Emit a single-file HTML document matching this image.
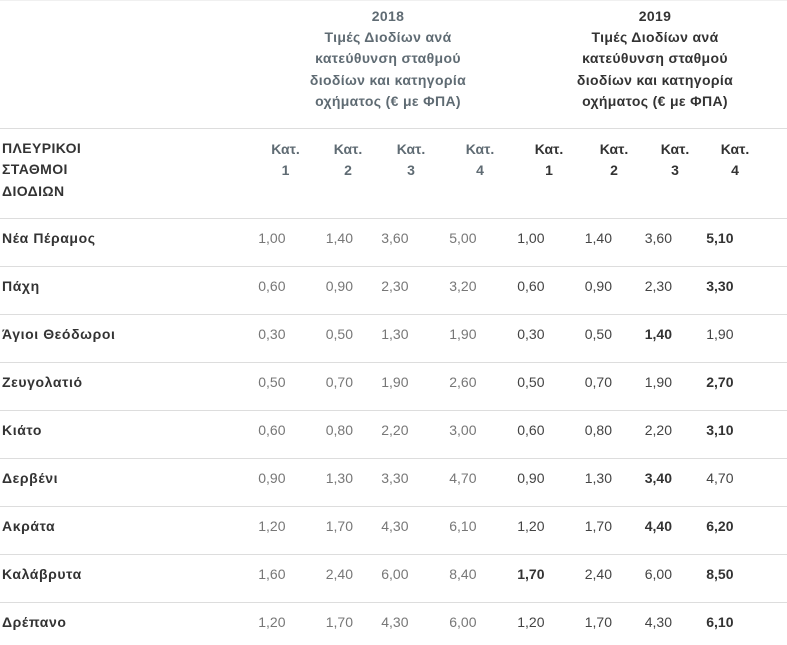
<!DOCTYPE html>
<html><head><meta charset="utf-8">
<style>
*{margin:0;padding:0;box-sizing:border-box}
html,body{width:787px;height:645px;background:#fff;overflow:hidden}
body{position:relative;font-family:"Liberation Sans","DejaVu Sans",sans-serif;font-size:14px;color:#333}
.abs{position:absolute}
.line{position:absolute;left:0;width:787px;height:1px;background:#dddddd}
.title{position:absolute;top:5.5px;width:240px;text-align:center;font-weight:bold;line-height:21.4px;font-size:14px;letter-spacing:0.35px}
.t18{color:#5f6b73}
.t19{color:#333}
.kat{position:absolute;top:139px;width:60px;text-align:center;font-weight:bold;line-height:21px}
.row{position:absolute;left:0;width:787px;height:48px;border-top:1px solid #dddddd}
.lab{position:absolute;left:2px;top:9px;line-height:20px;font-weight:bold;color:#333;white-space:nowrap;letter-spacing:0.6px}
.v{position:absolute;top:9px;width:50px;text-align:right;line-height:20px;white-space:nowrap}
.a{color:#777}
.b{color:#444}
.b b{color:#333}
.c1{left:235.5px}.c2{left:303px}.c3{left:358.5px}.c4{left:426.5px}
.c5{left:494.5px}.c6{left:562px}.c7{left:622px}.c8{left:683.5px}
</style></head><body>
<div class="line" style="top:0;background:#f0f0f0"></div>

<div class="title t18" style="left:268px">2018<br>Τιμές Διοδίων ανά<br>κατεύθυνση σταθμού<br>διοδίων και κατηγορία<br>οχήματος (€ με ΦΠΑ)</div>
<div class="title t19" style="left:535px">2019<br>Τιμές Διοδίων ανά<br>κατεύθυνση σταθμού<br>διοδίων και κατηγορία<br>οχήματος (€ με ΦΠΑ)</div>

<div class="line" style="top:128px"></div>

<div class="abs" style="left:2px;top:137.5px;line-height:21.5px;font-weight:bold;color:#333;letter-spacing:0.4px">ΠΛΕΥΡΙΚΟΙ<br>ΣΤΑΘΜΟΙ<br>ΔΙΟΔΙΩΝ</div>

<div class="kat t18" style="left:255.5px">Κατ.<br>1</div>
<div class="kat t18" style="left:318px">Κατ.<br>2</div>
<div class="kat t18" style="left:381px">Κατ.<br>3</div>
<div class="kat t18" style="left:450px">Κατ.<br>4</div>
<div class="kat t19" style="left:519px">Κατ.<br>1</div>
<div class="kat t19" style="left:584px">Κατ.<br>2</div>
<div class="kat t19" style="left:645px">Κατ.<br>3</div>
<div class="kat t19" style="left:705px">Κατ.<br>4</div>

<div class="row" style="top:218px"><div class="lab">Νέα Πέραμος</div>
<div class="v a c1">1,00</div><div class="v a c2">1,40</div><div class="v a c3">3,60</div><div class="v a c4">5,00</div>
<div class="v b c5">1,00</div><div class="v b c6">1,40</div><div class="v b c7">3,60</div><div class="v b c8"><b>5,10</b></div></div>

<div class="row" style="top:266px"><div class="lab">Πάχη</div>
<div class="v a c1">0,60</div><div class="v a c2">0,90</div><div class="v a c3">2,30</div><div class="v a c4">3,20</div>
<div class="v b c5">0,60</div><div class="v b c6">0,90</div><div class="v b c7">2,30</div><div class="v b c8"><b>3,30</b></div></div>

<div class="row" style="top:314px"><div class="lab">Άγιοι Θεόδωροι</div>
<div class="v a c1">0,30</div><div class="v a c2">0,50</div><div class="v a c3">1,30</div><div class="v a c4">1,90</div>
<div class="v b c5">0,30</div><div class="v b c6">0,50</div><div class="v b c7"><b>1,40</b></div><div class="v b c8">1,90</div></div>

<div class="row" style="top:362px"><div class="lab">Ζευγολατιό</div>
<div class="v a c1">0,50</div><div class="v a c2">0,70</div><div class="v a c3">1,90</div><div class="v a c4">2,60</div>
<div class="v b c5">0,50</div><div class="v b c6">0,70</div><div class="v b c7">1,90</div><div class="v b c8"><b>2,70</b></div></div>

<div class="row" style="top:410px"><div class="lab">Κιάτο</div>
<div class="v a c1">0,60</div><div class="v a c2">0,80</div><div class="v a c3">2,20</div><div class="v a c4">3,00</div>
<div class="v b c5">0,60</div><div class="v b c6">0,80</div><div class="v b c7">2,20</div><div class="v b c8"><b>3,10</b></div></div>

<div class="row" style="top:458px"><div class="lab">Δερβένι</div>
<div class="v a c1">0,90</div><div class="v a c2">1,30</div><div class="v a c3">3,30</div><div class="v a c4">4,70</div>
<div class="v b c5">0,90</div><div class="v b c6">1,30</div><div class="v b c7"><b>3,40</b></div><div class="v b c8">4,70</div></div>

<div class="row" style="top:506px"><div class="lab">Ακράτα</div>
<div class="v a c1">1,20</div><div class="v a c2">1,70</div><div class="v a c3">4,30</div><div class="v a c4">6,10</div>
<div class="v b c5">1,20</div><div class="v b c6">1,70</div><div class="v b c7"><b>4,40</b></div><div class="v b c8"><b>6,20</b></div></div>

<div class="row" style="top:554px"><div class="lab">Καλάβρυτα</div>
<div class="v a c1">1,60</div><div class="v a c2">2,40</div><div class="v a c3">6,00</div><div class="v a c4">8,40</div>
<div class="v b c5"><b>1,70</b></div><div class="v b c6">2,40</div><div class="v b c7">6,00</div><div class="v b c8"><b>8,50</b></div></div>

<div class="row" style="top:602px"><div class="lab">Δρέπανο</div>
<div class="v a c1">1,20</div><div class="v a c2">1,70</div><div class="v a c3">4,30</div><div class="v a c4">6,00</div>
<div class="v b c5">1,20</div><div class="v b c6">1,70</div><div class="v b c7">4,30</div><div class="v b c8"><b>6,10</b></div></div>

</body></html>
